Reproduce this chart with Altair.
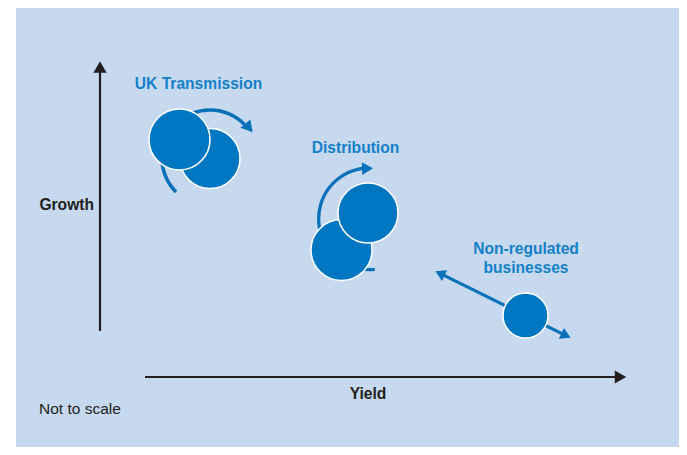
import math
import altair as alt
import pandas as pd

# ---------------- data (conceptual, not to scale: yield -> right, growth -> up) -------------
# Bubbles (drawn back to front)
bubble_group = ["UK Transmission", "UK Transmission", "Distribution", "Distribution",
                "Non-regulated businesses"]
bubble_yield = [210, 179.5, 341.5, 368, 525.5]
bubble_growth = [296.5, 315.5, 205, 242, 139.5]
bubble_radius = [30, 30.5, 30.5, 30, 22.5]

# Curved movement arrows (arc around a bubble pair)
arc_group = ["UK Transmission", "Distribution"]
arc_yield = [210, 369.5]
arc_growth = [297, 236.2]
arc_outer = [49.8, 52.5]
arc_inner = [46.3, 49.2]
arc_start_deg = [225, 174]
arc_end_deg = [406, 352]

# Straight double arrow for non-regulated businesses
nr_yield = [440]
nr_growth = [181.6]
nr_yield2 = [566]
nr_growth2 = [119.4]

# Blue arrowheads
head_yield = [249, 367.5, 440, 566]
head_growth = [327, 286.5, 181.6, 119.4]
head_angle = [50, 358, 206, 26]
head_size = [170, 160, 140, 140]

# Axes (arrows)
axis_name = ["Growth", "Yield"]
axis_x = [100, 145]
axis_y = [124, 78]
axis_x2 = [100, 615]
axis_y2 = [383, 78]
axis_head_x = [100, 620.5]
axis_head_y = [388, 78]
axis_head_angle = [270, 0]

# Labels
blue_labels = ["UK Transmission", "Distribution", "Non-regulated", "businesses"]
blue_label_x = [198.5, 355.5, 526, 526]
blue_label_y = [366, 302, 201, 182]

# Background panel
panel_x, panel_x2, panel_y, panel_y2 = [16], [679], [8], [450]

BG = "#c6d9ef"
CIRCLE_BLUE = "#0077c0"
ARROW_BLUE = "#0a70b8"
TEXT_BLUE = "#1580c8"
DARK = "#231f20"
FONT = "Liberation Sans"

XS = alt.Scale(domain=[8, 679], nice=False, zero=False)
YS = alt.Scale(domain=[8, 447], nice=False, zero=False)


def X(f):
    return alt.X(f, type="quantitative", scale=XS, axis=None)


def Y(f):
    return alt.Y(f, type="quantitative", scale=YS, axis=None)


panel = alt.Chart(pd.DataFrame({"x": panel_x, "x2": panel_x2, "y": panel_y, "y2": panel_y2})).mark_rect(
    color=BG).encode(x=X("x"), x2="x2", y=Y("y"), y2="y2")

axes_df = pd.DataFrame({"n": axis_name, "x": axis_x, "y": axis_y, "x2": axis_x2, "y2": axis_y2})
axis_lines = alt.Chart(axes_df).mark_rule(color=DARK, strokeWidth=2.2).encode(
    x=X("x"), y=Y("y"), x2="x2", y2="y2")

axis_heads = alt.Chart(pd.DataFrame({"x": axis_head_x, "y": axis_head_y, "a": axis_head_angle})).mark_point(
    shape="triangle-right", filled=True, color=DARK, opacity=1, size=175).encode(
    x=X("x"), y=Y("y"), angle=alt.Angle("a:Q", scale=None))

arc_df = pd.DataFrame({
    "g": arc_group, "x": arc_yield, "y": arc_growth,
    "ro": arc_outer, "ri": arc_inner,
    "t0": [math.radians(v) for v in arc_start_deg],
    "t1": [math.radians(v) for v in arc_end_deg],
})
arcs = alt.Chart(arc_df).mark_arc(color=ARROW_BLUE).encode(
    x=X("x"), y=Y("y"),
    theta=alt.Theta("t0:Q", scale=None), theta2="t1:Q",
    radius=alt.Radius("ro:Q", scale=None), radius2="ri:Q")

nr_line = alt.Chart(pd.DataFrame({"x": nr_yield, "y": nr_growth, "x2": nr_yield2, "y2": nr_growth2})).mark_rule(
    color=ARROW_BLUE, strokeWidth=3).encode(x=X("x"), y=Y("y"), x2="x2", y2="y2")

heads = alt.Chart(pd.DataFrame({"x": head_yield, "y": head_growth, "a": head_angle, "s": head_size})).mark_point(
    shape="triangle-right", filled=True, color=ARROW_BLUE, opacity=1).encode(
    x=X("x"), y=Y("y"), angle=alt.Angle("a:Q", scale=None), size=alt.Size("s:Q", scale=None))

# symbol size is the area of the bounding box: (2r)^2
bub_df = pd.DataFrame({"g": bubble_group, "x": bubble_yield, "y": bubble_growth,
                       "s": [(2 * r) ** 2 for r in bubble_radius]})
bubbles = alt.Chart(bub_df).mark_circle(color=CIRCLE_BLUE, opacity=1, stroke="white", strokeWidth=1.5).encode(
    x=X("x"), y=Y("y"), size=alt.Size("s:Q", scale=None))

blue_text = alt.Chart(pd.DataFrame({"t": blue_labels, "x": blue_label_x, "y": blue_label_y})).mark_text(
    font=FONT, fontSize=15.6, fontWeight="bold", color=TEXT_BLUE, align="center", baseline="alphabetic").encode(
    x=X("x"), y=Y("y"), text="t:N")

growth_text = alt.Chart(pd.DataFrame({"t": ["Growth"], "x": [94], "y": [245]})).mark_text(
    font=FONT, fontSize=15.6, fontWeight="bold", color=DARK, align="right", baseline="alphabetic").encode(
    x=X("x"), y=Y("y"), text="t:N")

yield_text = alt.Chart(pd.DataFrame({"t": ["Yield"], "x": [368], "y": [56]})).mark_text(
    font=FONT, fontSize=15.6, fontWeight="bold", color=DARK, align="center", baseline="alphabetic").encode(
    x=X("x"), y=Y("y"), text="t:N")

note_text = alt.Chart(pd.DataFrame({"t": ["Not to scale"], "x": [39], "y": [41]})).mark_text(
    font=FONT, fontSize=15.5, color=DARK, align="left", baseline="alphabetic").encode(
    x=X("x"), y=Y("y"), text="t:N")

chart = alt.layer(
    panel, axis_lines, axis_heads, arcs, nr_line, heads, bubbles,
    blue_text, growth_text, yield_text, note_text
).properties(
    width=671, height=439, padding=0, autosize=alt.AutoSizeParams(type="none"), background="white"
).configure_view(stroke=None)

chart.save("out.html", embed_options={"renderer": "svg", "actions": False})
